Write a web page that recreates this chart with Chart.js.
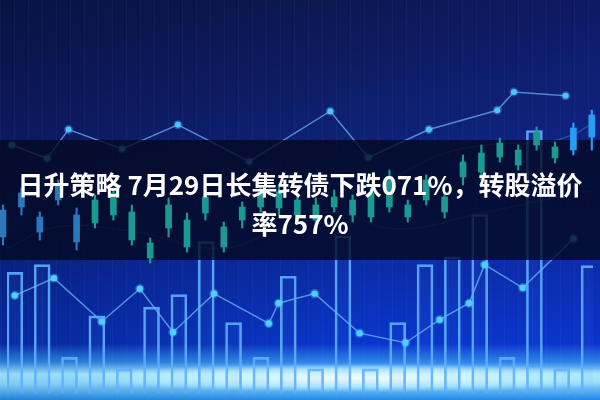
<!DOCTYPE html>
<html>
<head>
<meta charset="utf-8">
<script src="https://cdn.jsdelivr.net/npm/chart.js@4/dist/chart.umd.min.js"></script>
<style>
  html, body { margin: 0; padding: 0; background: #0b1a58; }
  #wrap {
    position: relative; width: 600px; height: 400px; overflow: hidden;
    background:
      radial-gradient(ellipse 300px 14px at 360px 378px, rgba(250,255,255,0.95), rgba(200,245,255,0.7) 60%, rgba(120,220,255,0) 100%),
      linear-gradient(to bottom, rgba(0,0,0,0) 86%, rgba(70,180,255,0.55) 90.5%, rgba(170,240,255,0.9) 93.5%, rgba(150,230,255,0.85) 96%, rgba(40,150,235,0.7) 100%),
      repeating-linear-gradient(to right, rgba(140,180,255,0.05) 0 1px, rgba(0,0,0,0) 1px 14px),
      linear-gradient(to right, rgba(0,0,20,0.25), rgba(0,0,20,0) 60%, rgba(20,40,200,0.15)),
      linear-gradient(to bottom, #0c1852 0%, #0f2070 30%, #0b2ca6 66%, #0a36cc 86%, #1a6ee0 100%);
  }
  canvas { position: absolute; left: 0; top: 0; }
  #band {
    position: absolute; left: 0; top: 140px; width: 600px; height: 120px;
    background: rgba(4, 9, 32, 0.8);
  }
  #title {
    position: absolute; left: 0; top: 164px; width: 600px;
    text-align: center; color: #ffffff;
    font-family: "Noto Sans CJK SC", "Noto Sans", sans-serif;
    font-weight: bold; font-size: 26px; line-height: 39px;
  }
</style>
</head>
<body>
<div id="wrap">
  <canvas id="back" width="600" height="400"></canvas>
  <div id="band"></div>
  <canvas id="candles" width="600" height="400"></canvas>
  <div id="title">日升策略 7月29日长集转债下跌071%，转股溢价<br>率757%</div>
</div>
<script>
// outline bars, one per slot
const barValues = [12.5, 13.3, 3.7, 8.0, 2.5, 8.9, 10.2, 15.7, 7.3, 3.7, 12.1,
                   2.5, 16.3, 2.5, 7.3, 13.3, 14.1, 18.5, 3.7, 27.2, 2.5, 13.2];

// upper line (x, y)
const upperX = [0.5, 4.1, 6.3, 11.8, 17.5, 24.8, 33.1, 37.0, 43.2, 50.2, 51.9, 57.2];
const upperY = [25.7, 24.3, 27.3, 25.3, 27.8, 24.0, 29.2, 24.4, 27.3, 29.3, 31.2, 30.8];

// lower line (x, y)
const lowerX = [0.8, 4.8, 9.7, 13.6, 17.0, 21.2, 26.8, 27.8, 31.5, 36.1, 40.8, 44.3, 47.3, 48.9, 52.8, 58.0];
const lowerY = [10.1, 11.9, 7.4, 10.8, 6.3, 10.3, 7.2, 9.3, 10.3, 6.2, 5.2, 7.6, 9.3, 13.3, 10.9, 16.0];

// faint waves
const waveX = [0, 5, 13, 21.7, 28, 33.3, 40, 48, 55, 60];
const waveY = [15.0, 17.2, 16.7, 15.0, 17.0, 18.7, 17.0, 18.5, 20.0, 21.0];
const wave2X = [40, 44.4, 50, 55, 58, 60];
const wave2Y = [22.5, 24.7, 25.8, 26.0, 26.8, 28.0];

// candlesticks
const candleOpen  = [19.0, 19.3, 18.3, 20.0, 18.5, 17.7, 20.7, 16.0, 15.7, 17.2, 18.0,
                     18.7, 17.3, 18.0, 19.3, 20.8, 18.5, 19.5, 19.3, 20.0, 18.3, 19.3,
                     19.5, 20.0, 20.3, 22.3, 22.8, 25.7, 23.5, 25.5, 25.3, 25.0, 26.3];
const candleClose = [16.3, 20.7, 16.8, 21.5, 15.8, 20.0, 18.5, 18.8, 14.2, 19.5, 15.3,
                     20.3, 15.3, 19.3, 20.7, 19.2, 20.0, 18.0, 20.3, 18.5, 20.7, 22.3,
                     18.3, 22.0, 18.8, 23.8, 24.7, 24.3, 25.0, 26.8, 24.2, 27.2, 28.5];
const candleHigh  = [19.5, 21.2, 18.8, 22.0, 19.2, 20.5, 21.2, 19.5, 16.2, 20.2, 18.7,
                     20.8, 17.8, 19.8, 21.5, 21.5, 20.5, 20.2, 21.0, 20.5, 21.2, 23.0,
                     20.0, 22.5, 20.8, 24.5, 25.5, 26.2, 25.5, 27.3, 25.8, 27.7, 29.0];
const candleLow   = [15.5, 18.5, 16.0, 19.5, 15.0, 17.2, 18.0, 15.5, 13.7, 16.3, 14.8,
                     18.0, 14.8, 17.2, 18.8, 18.5, 18.0, 17.5, 18.8, 17.8, 17.8, 18.8,
                     17.8, 19.5, 18.2, 21.5, 22.0, 23.8, 23.0, 25.0, 23.7, 24.5, 25.0];

const barSlot = i => 0.8 + 2.8 * i;
const candleSlot = i => 0.3 + 1.84 * i;
const candleColor = i => i < 5 ? "#2b78bd" : (i > 30 ? "#2a9cf5" : "#1b9a92");

const scales = {
    x: { type: "linear", min: 0, max: 60, offset: false, display: false },
    y: { type: "linear", min: 0, max: 40, display: false }
};
const common = {
    responsive: false,
    animation: false,
    devicePixelRatio: 1,
    events: [],
    layout: { padding: 0 },
    plugins: { legend: { display: false }, tooltip: { enabled: false } },
    scales
};

new Chart(document.getElementById("back"), {
    type: "bar",
    data: {
        datasets: [
            {
                type: "line",
                data: waveX.map((x, i) => ({ x, y: waveY[i] })),
                borderColor: "rgba(110,160,230,0.28)",
                borderWidth: 1.5,
                tension: 0.45,
                pointRadius: 0
            },
            {
                type: "line",
                data: wave2X.map((x, i) => ({ x, y: wave2Y[i] })),
                borderColor: "rgba(110,170,240,0.3)",
                borderWidth: 1.5,
                tension: 0.45,
                pointRadius: 0
            },
            {
                type: "line",
                data: upperX.map((x, i) => ({ x, y: upperY[i] })),
                borderColor: "rgba(105,170,245,0.75)",
                borderWidth: 1.5,
                pointRadius: 3,
                pointBackgroundColor: "#4cc4ff",
                pointBorderColor: "rgba(76,196,255,0.35)",
                pointBorderWidth: 3
            },
            {
                type: "line",
                data: lowerX.map((x, i) => ({ x, y: lowerY[i] })),
                borderColor: "rgba(110,180,245,0.75)",
                borderWidth: 1.5,
                pointRadius: 3.2,
                pointBackgroundColor: "#4fd0ff",
                pointBorderColor: "rgba(79,208,255,0.35)",
                pointBorderWidth: 3
            },
            {
                type: "bar",
                data: barValues.map((v, i) => ({ x: barSlot(i), y: v })),
                backgroundColor: "rgba(70,150,255,0.06)",
                borderColor: "rgba(95,175,255,0.9)",
                borderWidth: 2,
                borderSkipped: "start",
                barThickness: 16,
                grouped: false
            }
        ]
    },
    options: common
});

new Chart(document.getElementById("candles"), {
    type: "bar",
    data: {
        datasets: [
            {
                data: candleHigh.map((h, i) => ({ x: candleSlot(i), y: [candleLow[i], h] })),
                backgroundColor: candleHigh.map((h, i) => candleColor(i)),
                barThickness: 1.5,
                grouped: false
            },
            {
                data: candleOpen.map((o, i) => ({ x: candleSlot(i), y: [Math.min(o, candleClose[i]), Math.max(o, candleClose[i])] })),
                backgroundColor: candleOpen.map((o, i) => candleColor(i)),
                barThickness: 6,
                grouped: false
            }
        ]
    },
    options: common
});
</script>
</body>
</html>
